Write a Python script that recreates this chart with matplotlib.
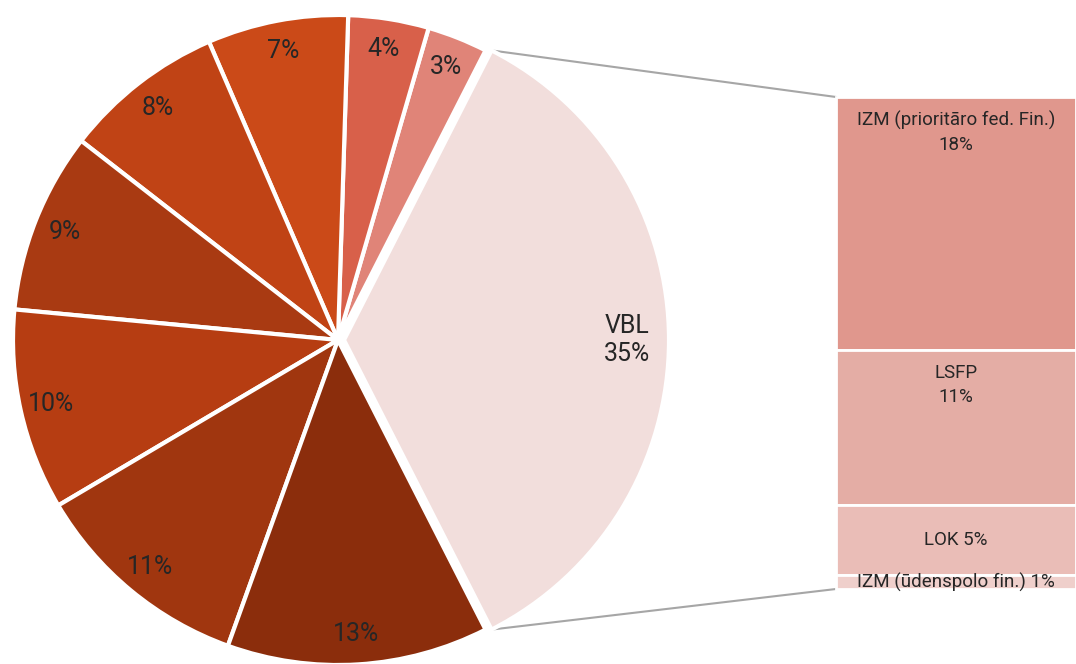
import numpy as np
import matplotlib
matplotlib.use("Agg")
import matplotlib.pyplot as plt

# pie slices, counter-clockwise starting with the exploded VBL slice
pie_labels = ["VBL", "", "", "", "", "", "", "", ""]
pie_values = [35, 3, 4, 7, 8, 9, 10, 11, 13]
pie_colors = ["#F2DEDC", "#E08478", "#D8604A", "#CB4A18", "#C04315",
              "#A93A12", "#B63D12", "#A0360F", "#8B2D0C"]

# breakdown of VBL, top to bottom
bar_labels = ["IZM (prioritāro fed. Fin.)", "LSFP", "LOK", "IZM (ūdenspolo fin.)"]
bar_values = [18, 11, 5, 1]
bar_colors = ["#E0978D", "#E4ADA5", "#EABDB7", "#EFCFCB"]

W, H = 1076, 664
plt.rcParams["font.family"] = ["Roboto", "DejaVu Sans"]
TXT = "#262626"

fig = plt.figure(figsize=(W / 100, H / 100), dpi=100)
ax = fig.add_axes([0, 0, 1, 1])

center = (338, 324)
radius = 325
# explode is in data units here (radius is not 1)
explode = [6] + [0] * (len(pie_values) - 1)
wedges, _ = ax.pie(
    pie_values,
    colors=pie_colors,
    startangle=-pie_values[0] * 1.8,
    counterclock=True,
    center=center,
    radius=radius,
    explode=explode,
    wedgeprops=dict(edgecolor="white", linewidth=3),
)

for w, v, lab in zip(wedges, pie_values, pie_labels):
    mid = np.deg2rad((w.theta1 + w.theta2) / 2)
    cx, cy = w.center
    if lab:
        d = 0.87 * w.r
        text = f"{lab}\n{v}%"
    else:
        d = 0.905 * w.r
        text = f"{v}%"
    ax.text(cx + d * np.cos(mid), cy + d * np.sin(mid), text,
            ha="center", va="center", fontsize=18, color=TXT,
            linespacing=1.2)

# stacked bar for the VBL breakdown
bar_left, bar_right = 836, W
bar_top, bar_bottom = H - 97, H - 589
scale = (bar_top - bar_bottom) / sum(bar_values)
bar_x = (bar_left + bar_right) / 2
bar_w = bar_right - bar_left
top = bar_top
for i, (lab, v, c) in enumerate(zip(bar_labels, bar_values, bar_colors)):
    h = v * scale
    ax.bar(bar_x, h, bottom=top - h, width=bar_w, color=c,
           edgecolor="white", linewidth=2)
    if i < 2:
        ax.text(bar_x, top - 14, f"{lab}\n{v}%", ha="center", va="top",
                fontsize=13.5, color=TXT, linespacing=1.45)
    else:
        ax.text(bar_x, top - h / 2, f"{lab} {v}%", ha="center",
                va="center", fontsize=13.5, color=TXT)
    top -= h

# connector lines from the VBL slice to the bar
vbl = wedges[0]
for ang, by in [(vbl.theta2, bar_top), (vbl.theta1, bar_bottom)]:
    a = np.deg2rad(ang)
    px = vbl.center[0] + vbl.r * np.cos(a)
    py = vbl.center[1] + vbl.r * np.sin(a)
    ax.plot([px, bar_left], [py, by], color="#A6A6A6", lw=1.5, zorder=0)

ax.set_xlim(0, W)
ax.set_ylim(0, H)
ax.set_aspect("equal")
ax.axis("off")

fig.savefig("out.png", dpi=100)
